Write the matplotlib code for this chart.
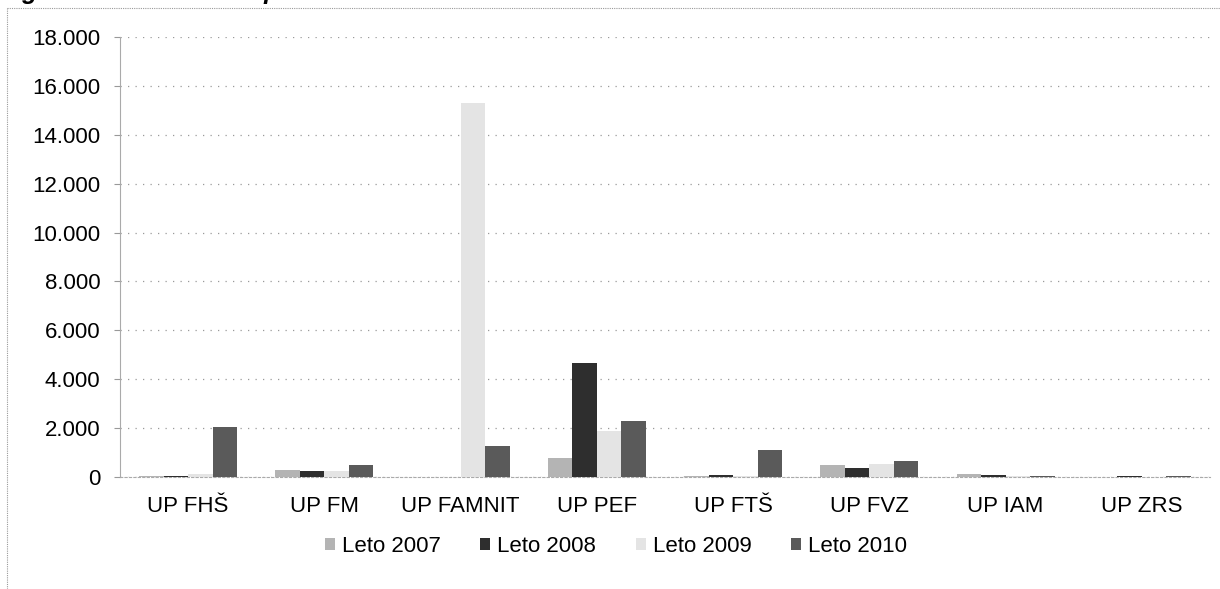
import numpy as np
import matplotlib.pyplot as plt
from matplotlib.ticker import FuncFormatter

# values
categories = ["UP FHŠ", "UP FM", "UP FAMNIT", "UP PEF", "UP FTŠ", "UP FVZ", "UP IAM", "UP ZRS"]
series_names = ["Leto 2007", "Leto 2008", "Leto 2009", "Leto 2010"]
leto_2007 = [30, 300, 0, 780, 50, 500, 120, 0]
leto_2008 = [50, 250, 0, 4650, 80, 350, 80, 50]
leto_2009 = [120, 250, 15300, 1900, 40, 550, 40, 0]
leto_2010 = [2050, 480, 1250, 2300, 1100, 650, 60, 40]
y_ticks = [0, 2000, 4000, 6000, 8000, 10000, 12000, 14000, 16000, 18000]

colors = ["#b4b4b4", "#2e2e2e", "#e4e4e4", "#5a5a5a"]

plt.rcParams["font.family"] = ["Liberation Sans", "DejaVu Sans"]

fig = plt.figure(figsize=(12.2, 5.89), dpi=100)
ax = fig.add_axes([120 / 1220, 1 - 477 / 589, 1090 / 1220, 440 / 589])

x = np.arange(len(categories))
w = 0.18
for i, (vals, name) in enumerate(zip([leto_2007, leto_2008, leto_2009, leto_2010], series_names)):
    ax.bar(x + (i - 1.5) * w, vals, width=w, color=colors[i], label=name,
           edgecolor="none", zorder=3)

ax.set_xlim(-0.5, len(categories) - 0.5)
ax.set_ylim(0, 18000)
ax.set_yticks(y_ticks)
ax.yaxis.set_major_formatter(FuncFormatter(lambda v, p: f"{int(v):,}".replace(",", ".")))
ax.set_xticks(x)
ax.set_xticklabels(categories)
ax.tick_params(axis="both", labelsize=16, length=4, color="#999999")
ax.tick_params(axis="x", length=0, pad=14)
ax.tick_params(axis="y", pad=10)

ax.grid(axis="y", color="#9a9a9a", linestyle=(0, (1, 5)), linewidth=0.9, zorder=0)
for s in ["top", "right"]:
    ax.spines[s].set_visible(False)
ax.spines["left"].set_color("#aaaaaa")
ax.spines["left"].set_linestyle((0, (1, 1)))
ax.spines["bottom"].set_color("#aaaaaa")
ax.spines["bottom"].set_linestyle((0, (2, 2)))

fig.legend(loc="center", bbox_to_anchor=(616 / 1220, 1 - 546 / 589), ncol=4, frameon=False,
           fontsize=16, handlelength=0.45, handleheight=0.45, handletextpad=0.3,
           columnspacing=1.8)

# outer chart frame (left and top edges visible in the scan)
fig.add_artist(plt.Line2D([7 / 1220, 7 / 1220], [0, 1 - 8 / 589], transform=fig.transFigure,
                          color="#999999", linestyle=(0, (1, 1)), linewidth=0.8))
fig.add_artist(plt.Line2D([7 / 1220, 1], [1 - 8 / 589, 1 - 8 / 589], transform=fig.transFigure,
                          color="#999999", linestyle=(0, (1, 1)), linewidth=0.8))

# caption cut off at the top of the scan
fig.text(0.0, 1 - 4 / 589, "Figure 2: Mobilnost zaposlenih", fontsize=18, fontweight="bold",
         fontstyle="italic", va="bottom", ha="left")

fig.savefig("out.png", dpi=100)
